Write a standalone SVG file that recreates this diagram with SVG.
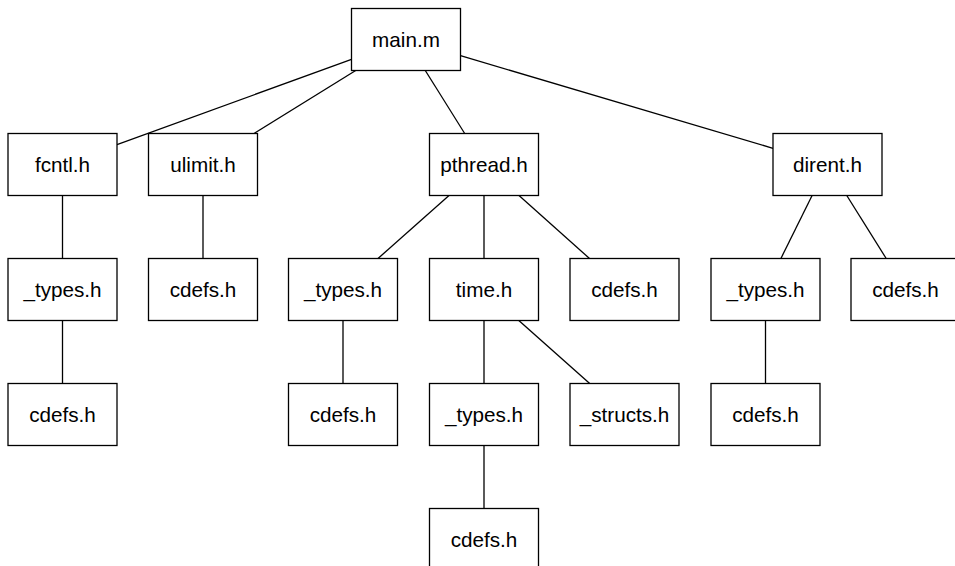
<svg xmlns="http://www.w3.org/2000/svg" width="955" height="566" viewBox="0 0 955 566">
<style>
.n rect{fill:#fff;stroke:#000;stroke-width:1.3}
.n text{font-family:"Liberation Sans",Arial,sans-serif;font-size:20.7px;fill:#000;text-anchor:middle}
#edges line{stroke:#000;stroke-width:1.3}
</style>
<rect width="955" height="566" fill="#fff"/>
<g id="edges">
<line x1="351.5" y1="59.3" x2="117" y2="144.7"/>
<line x1="355.7" y1="70.5" x2="254" y2="133.5"/>
<line x1="425.3" y1="70.5" x2="464.7" y2="133.5"/>
<line x1="460.5" y1="55.7" x2="773" y2="148.3"/>
<line x1="62.5" y1="195.5" x2="62.5" y2="258.5"/>
<line x1="203" y1="195.5" x2="203" y2="258.5"/>
<line x1="449" y1="195.5" x2="378" y2="258.5"/>
<line x1="484" y1="195.5" x2="484" y2="258.5"/>
<line x1="519" y1="195.5" x2="589.5" y2="258.5"/>
<line x1="812.1" y1="195.5" x2="780.9" y2="258.5"/>
<line x1="846.8" y1="195.5" x2="886.2" y2="258.5"/>
<line x1="62.5" y1="320.5" x2="62.5" y2="383.5"/>
<line x1="343" y1="320.5" x2="343" y2="383.5"/>
<line x1="484" y1="320.5" x2="484" y2="383.5"/>
<line x1="518.8" y1="320.5" x2="589.7" y2="383.5"/>
<line x1="765.5" y1="320.5" x2="765.5" y2="383.5"/>
<line x1="484" y1="445.5" x2="484" y2="508.5"/>
</g>
<g id="main" class="n"><rect x="351.5" y="8.5" width="109" height="62"/><text x="406" y="47.2">main.m</text></g>
<g id="fcntl" class="n"><rect x="8" y="133.5" width="109" height="62"/><text x="62.5" y="172.2">fcntl.h</text></g>
<g id="ulimit" class="n"><rect x="148.5" y="133.5" width="109" height="62"/><text x="203" y="172.2">ulimit.h</text></g>
<g id="pthread" class="n"><rect x="429.5" y="133.5" width="109" height="62"/><text x="484" y="172.2">pthread.h</text></g>
<g id="dirent" class="n"><rect x="773" y="133.5" width="109" height="62"/><text x="827.5" y="172.2">dirent.h</text></g>
<g id="fcntl_types" class="n"><rect x="8" y="258.5" width="109" height="62"/><text x="62.5" y="297.2">_types.h</text></g>
<g id="ulimit_cdefs" class="n"><rect x="148.5" y="258.5" width="109" height="62"/><text x="203" y="297.2">cdefs.h</text></g>
<g id="pthread_types" class="n"><rect x="288.5" y="258.5" width="109" height="62"/><text x="343" y="297.2">_types.h</text></g>
<g id="time" class="n"><rect x="429.5" y="258.5" width="109" height="62"/><text x="484" y="297.2">time.h</text></g>
<g id="pthread_cdefs" class="n"><rect x="570" y="258.5" width="109" height="62"/><text x="624.5" y="297.2">cdefs.h</text></g>
<g id="dirent_types" class="n"><rect x="711" y="258.5" width="109" height="62"/><text x="765.5" y="297.2">_types.h</text></g>
<g id="dirent_cdefs" class="n"><rect x="851" y="258.5" width="109" height="62"/><text x="905.5" y="297.2">cdefs.h</text></g>
<g id="fcntl_types_cdefs" class="n"><rect x="8" y="383.5" width="109" height="62"/><text x="62.5" y="422.2">cdefs.h</text></g>
<g id="pthread_types_cdefs" class="n"><rect x="288.5" y="383.5" width="109" height="62"/><text x="343" y="422.2">cdefs.h</text></g>
<g id="time_types" class="n"><rect x="429.5" y="383.5" width="109" height="62"/><text x="484" y="422.2">_types.h</text></g>
<g id="time_structs" class="n"><rect x="570" y="383.5" width="109" height="62"/><text x="624.5" y="422.2">_structs.h</text></g>
<g id="dirent_types_cdefs" class="n"><rect x="711" y="383.5" width="109" height="62"/><text x="765.5" y="422.2">cdefs.h</text></g>
<g id="time_types_cdefs" class="n"><rect x="429.5" y="508.5" width="109" height="62"/><text x="484" y="547.2">cdefs.h</text></g>
</svg>
